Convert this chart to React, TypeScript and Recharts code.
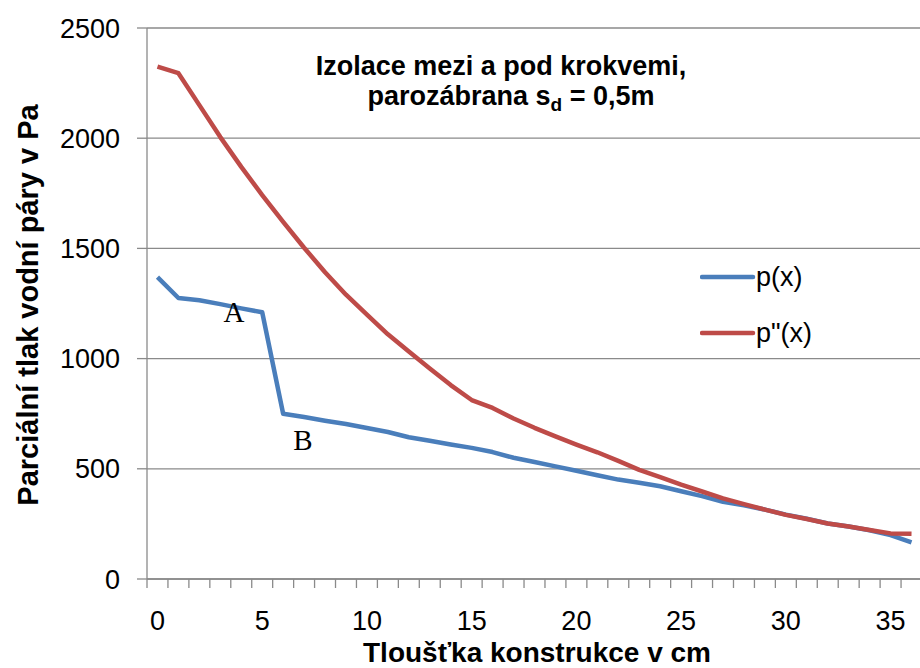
import React from "react";
import { LineChart, Line, XAxis, YAxis, CartesianGrid, Legend } from "recharts";

// thickness of the construction in cm (one category per cm)
const thickness = [
  0, 1, 2, 3, 4, 5, 6, 7, 8, 9, 10, 11, 12, 13, 14, 15, 16, 17, 18,
  19, 20, 21, 22, 23, 24, 25, 26, 27, 28, 29, 30, 31, 32, 33, 34, 35, 36,
];

// p(x) - partial pressure of water vapour [Pa]
const pressure = [
  1370, 1275, 1265, 1247, 1228, 1210, 750, 735, 718, 703, 685, 667, 643,
  627, 610, 595, 576, 550, 531, 511, 491, 471, 451, 437, 421, 398, 376,
  350, 334, 315, 292, 273, 252, 238, 221, 199, 166,
];

// p''(x) - saturated partial pressure [Pa]
const saturated = [
  2325, 2295, 2150, 2005, 1870, 1742, 1620, 1503, 1392, 1290, 1200, 1110,
  1032, 955, 880, 812, 776, 728, 686, 647, 610, 575, 536, 495, 462, 428,
  397, 366, 340, 315, 291, 272, 252, 238, 222, 207, 205,
];

const yTicks = [0, 500, 1000, 1500, 2000, 2500];
const xLabels = [0, 5, 10, 15, 20, 25, 30, 35];

const data = thickness.map((x, i) => ({ x, p: pressure[i], ps: saturated[i] }));

// category boundaries (tick marks) + category centres for labels
const xTicks: number[] = [];
for (let i = 0; i <= thickness.length; i++) {
  xTicks.push(i - 0.5);
  if (i < thickness.length && xLabels.includes(i)) xTicks.push(i);
}

const FONT = '"Liberation Sans", Arial, sans-serif';
const GRID = "#8a8a8a";

const XTick = ({ x, y, payload }: any) => {
  const v = payload.value;
  if (!Number.isInteger(v)) {
    return <line x1={x} x2={x} y1={y} y2={y + 9} stroke={GRID} strokeWidth={1.3} />;
  }
  return (
    <text x={x} y={y + 51} textAnchor="middle" fontSize={27} fontFamily={FONT} fill="#000">
      {v}
    </text>
  );
};

const LegendContent = ({ payload }: any) => {
  const items = [...(payload || [])].sort((a: any, b: any) =>
    String(a.dataKey).localeCompare(String(b.dataKey))
  );
  return (
    <svg width={140} height={90}>
      {items.map((e: any, i: number) => (
        <g key={i}>
          <line x1={2} x2={53} y1={19 + i * 56} y2={19 + i * 56} stroke={e.color} strokeWidth={4.5} strokeLinecap="round" />
          <text x={56} y={19 + i * 56} dy="0.35em" fontSize={27} fontFamily={FONT} fill="#000">
            {e.value}
          </text>
        </g>
      ))}
    </svg>
  );
};

export default function App() {
  return (
    <div style={{ position: "absolute", left: 0, top: 0, width: 920, height: 668, overflow: "hidden", background: "#fff" }}>
      <LineChart width={925} height={668} data={data} margin={{ top: 28, right: 3, bottom: 0, left: 0 }}>
        <CartesianGrid vertical={false} stroke={GRID} strokeWidth={1.3} />
        <XAxis
          dataKey="x"
          type="number"
          domain={[-0.5, 36.5]}
          ticks={xTicks}
          interval={0}
          tick={<XTick />}
          tickLine={false}
          tickSize={0}
          tickMargin={0}
          height={89}
          stroke={GRID}
          strokeWidth={1.3}
        />
        <YAxis
          type="number"
          domain={[0, 2500]}
          ticks={yTicks}
          width={147}
          tickSize={10}
          tickMargin={17}
          stroke={GRID}
          strokeWidth={1.3}
          tick={{ fontSize: 27, fontFamily: FONT, fill: "#000" }}
        />
        <Legend
          layout="vertical"
          align="center"
          verticalAlign="middle"
          itemSorter="dataKey"
          wrapperStyle={{ left: 700, top: 258, width: 140, height: 90 }}
          content={<LegendContent />}
        />
        <Line
          type="linear"
          dataKey="p"
          name="p(x)"
          stroke="#4a7ebb"
          strokeWidth={4.5}
          strokeLinejoin="round"
          dot={false}
          isAnimationActive={false}
        />
        <Line
          type="linear"
          dataKey="ps"
          name={'p"(x)'}
          stroke="#be4b48"
          strokeWidth={4.5}
          strokeLinejoin="round"
          dot={false}
          isAnimationActive={false}
        />
      </LineChart>
      <svg
        width={920}
        height={668}
        style={{ position: "absolute", left: 0, top: 0, pointerEvents: "none" }}
      >
        <g fontFamily={FONT} fontWeight="bold" fontSize={27} fill="#000" textAnchor="middle">
          <text x={501} y={75}>Izolace mezi a pod krokvemi,</text>
          <text x={511} y={105}>
            parozábrana s<tspan fontSize={19} dy={6}>d</tspan>
            <tspan dy={-6}> = 0,5m</tspan>
          </text>
          <text x={537} y={662} fontSize={28}>Tloušťka konstrukce v cm</text>
          <text transform="translate(38 305) rotate(-90)" fontSize={29}>
            Parciální tlak  vodní páry v Pa
          </text>
        </g>
        <g fontFamily='"Liberation Serif", "Times New Roman", serif' fontSize={29} fill="#000" textAnchor="middle">
          <text x={234} y={322}>A</text>
          <text x={303} y={450}>B</text>
        </g>
      </svg>
    </div>
  );
}
